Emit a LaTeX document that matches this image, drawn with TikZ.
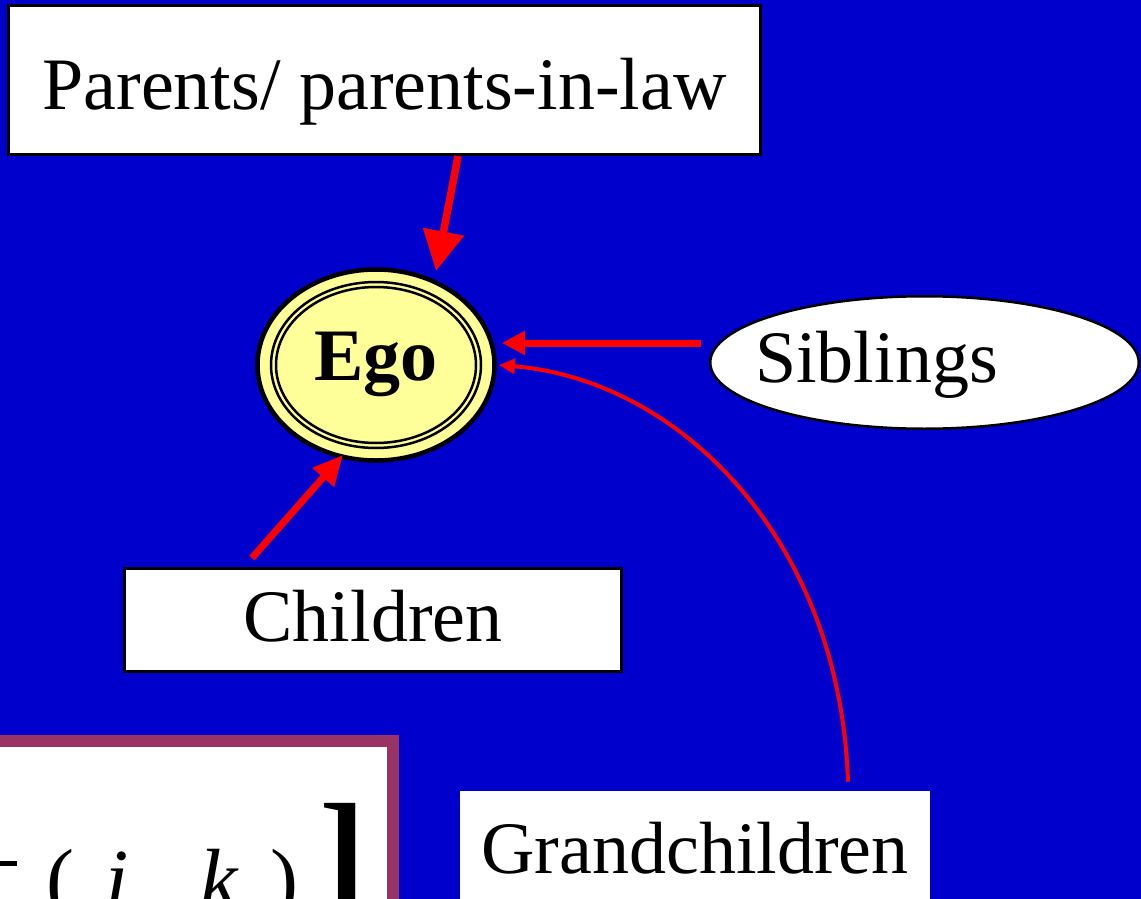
\documentclass[tikz,border=0pt]{standalone}
\usepackage{fontspec}
\setmainfont{Liberation Serif}
\usetikzlibrary{arrows.meta,calc,shapes.geometric}
\definecolor{slideblue}{RGB}{0,0,204}
\definecolor{egoyellow}{RGB}{255,255,153}
\definecolor{framemaroon}{RGB}{153,51,102}
\begin{document}
\begin{tikzpicture}[x=1pt,y=-1pt,
  bigtext/.style={font=\fontsize{74}{80}\selectfont},
  mathtext/.style={font=\fontsize{84}{90}\selectfont, inner sep=0pt, anchor=base west},
  whitebox/.style={rectangle, draw=black, line width=3pt, fill=white, inner sep=0pt, bigtext},
  link/.style={draw=red, line width=#1},
]
% slide background
\fill[slideblue] (0,0) rectangle (1141,899);
\useasboundingbox (0,0) rectangle (1141,899);
\clip (0,0) rectangle (1141,899);

% relatives
\node[whitebox, minimum width=752, minimum height=149, text height=60pt, text depth=0pt]
  (parents) at (384.5,80) {Parents/ parents-in-law};
\node[whitebox, minimum width=497, minimum height=103, text height=42pt, text depth=0pt]
  (children) at (373,620) {Children};
\node[rectangle, fill=white, inner sep=0pt, bigtext, minimum width=470, minimum height=170,
  text height=0pt, text depth=5pt]
  (grand) at (695,876) {Grandchildren};
\node[ellipse, draw=black, line width=2.5pt, fill=white, inner sep=0pt,
  minimum width=428.5, minimum height=132.5] (sib) at (924.5,362.5) {};
\node[bigtext, inner sep=0pt, anchor=base west] (siblabel) at (755,382) {Siblings};

% ego with its triple outline
\node[ellipse, draw=black, line width=4.5pt, fill=egoyellow, inner sep=0pt,
  minimum width=237, minimum height=191, font=\fontsize{74}{80}\selectfont\bfseries,
  text height=30pt, text depth=0pt] (ego) at (376,365) {Ego};
\draw[line width=2.5pt] (ego.center) ellipse [x radius=105, y radius=83];
\draw[line width=2.5pt] (ego.center) ellipse [x radius=100, y radius=78];

% links into ego
\draw[link=7.5pt, -{Triangle[length=40pt,width=40pt]}]
  ($(parents.south)+(73.5,0)$) -- ($(ego.center)+(60,-94)$);
\draw[link=7pt, -{Triangle[length=23pt,width=23pt]}]
  ($(sib.west)+(-8,-19.5)$) -- ($(ego.center)+(126,-22)$);
\draw[link=7pt, -{Triangle[length=30pt,width=27pt]}]
  ($(children.north)+(-121,-9)$) -- ($(ego.center)+(-33,90)$);
\draw[link=4pt, -{Triangle[length=16pt,width=15pt]}]
  ($(grand.north)+(153,-9)$) .. controls +(-8,-242) and +(181,15) .. ($(ego.center)+(123,0)$);

% formula panel
\node[rectangle, draw=framemaroon, line width=12pt, fill=white, inner sep=0pt,
  minimum width=443, minimum height=318] (panel) at (171.5,900) {};
\draw[line width=5pt] (-5,863) -- (17,863);
\node[mathtext] (lpar) at (46,907) {(};
\node[mathtext] (ivar) at (105,907) {\itshape i};
\node[mathtext] (kvar) at (200,907) {\itshape k};
\node[mathtext] (rpar) at (270,907) {)};
\node[mathtext, font=\fontsize{140}{140}\selectfont\bfseries] (rbrack) at (319,900) {]};
\end{tikzpicture}
\end{document}
